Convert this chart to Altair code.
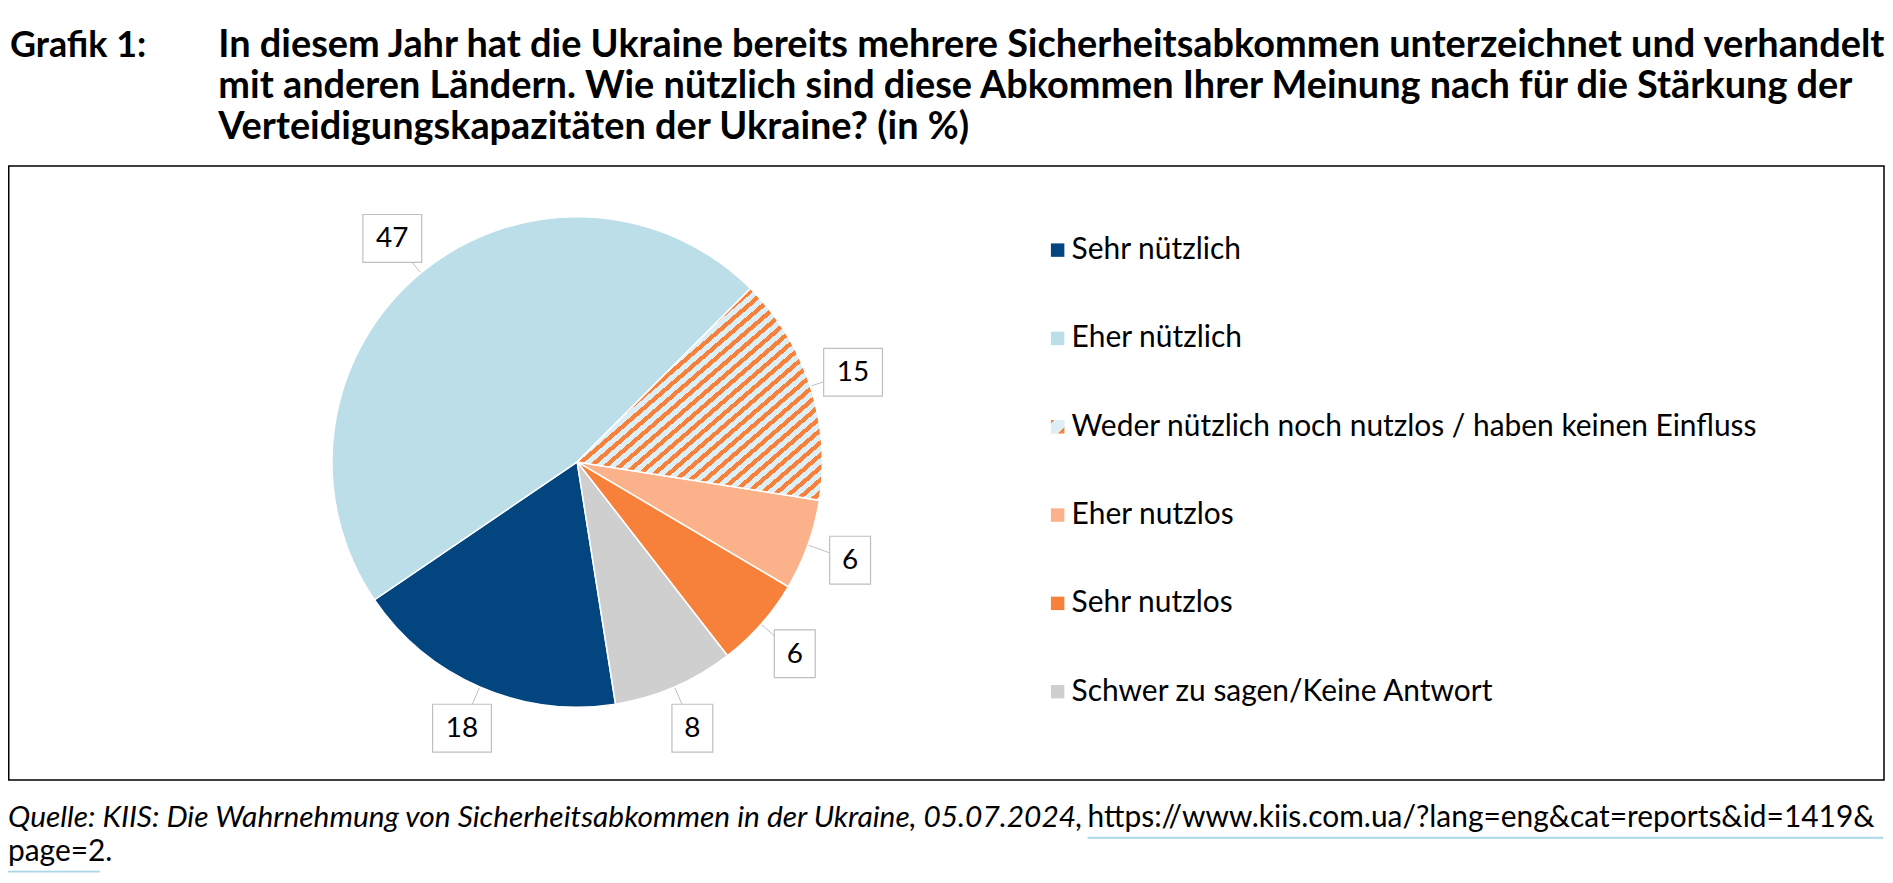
import math
import altair as alt
import pandas as pd

# ---------------- data ----------------
categories = [
    "Sehr nützlich",
    "Eher nützlich",
    "Weder nützlich noch nutzlos / haben keinen Einfluss",
    "Eher nutzlos",
    "Sehr nutzlos",
    "Schwer zu sagen/Keine Antwort",
]
values = [18, 47, 15, 6, 6, 8]
colors = ["#03467F", "#BBDEE9", "#DDEEF4", "#FBB28A", "#F7803B", "#D0CFCF"]

figure_label = "Grafik 1:"
title_lines = [
    "In diesem Jahr hat die Ukraine bereits mehrere Sicherheitsabkommen unterzeichnet und verhandelt",
    "mit anderen Ländern. Wie nützlich sind diese Abkommen Ihrer Meinung nach für die Stärkung der",
    "Verteidigungskapazitäten der Ukraine? (in %)",
]
source_italic = "Quelle: KIIS: Die Wahrnehmung von Sicherheitsabkommen in der Ukraine, 05.07.2024,"
source_url_1 = "https://www.kiis.com.ua/?lang=eng&cat=reports&id=1419&"
source_url_2 = "page=2"

df = pd.DataFrame({"category": categories, "value": values, "order": list(range(len(categories)))})
TOTAL = sum(values)

# ---------------- layout / style ----------------
W, H = 1883, 867
CX, CY, R = 571, 454, 246
RL = 291
START = 171 * math.pi / 180
FONT = "Lato"
ORANGE = "#F7803B"
HATCH_BG = "#DDEEF4"
hatch_name = categories[2]

def stripes(n, frac, c1, c2):
    stops = []
    for k in range(n):
        a, b, c = k / n, (k + frac) / n, (k + 1) / n
        stops += [{"offset": a, "color": c1}, {"offset": b, "color": c1},
                  {"offset": b, "color": c2}, {"offset": c, "color": c2}]
    return {"gradient": "linear", "x1": 0, "y1": 0, "x2": 1, "y2": 1, "stops": stops}

hatch_fill = stripes(34, 0.45, ORANGE, HATCH_BG)
legend_hatch = {"gradient": "linear", "x1": 0, "y1": 0, "x2": 1, "y2": 1, "stops": [
    {"offset": 0, "color": ORANGE}, {"offset": 0.14, "color": ORANGE},
    {"offset": 0.14, "color": HATCH_BG}, {"offset": 0.78, "color": HATCH_BG},
    {"offset": 0.78, "color": ORANGE}, {"offset": 1, "color": ORANGE}]}

color_scale = alt.Scale(domain=categories, range=colors)
theta_scale = alt.Scale(domain=[0, TOTAL], range=[START, START + 2 * math.pi])

base = (
    alt.Chart(df)
    .transform_joinaggregate(total="sum(value)")
    .transform_window(cum="sum(value)", sort=[alt.SortField("order")], frame=[None, 0])
    .transform_calculate(
        v0="datum.cum - datum.value",
        ang=f"{START} + 2*PI*(datum.cum - datum.value/2)/datum.total",
    )
    .transform_calculate(
        lx=f"{CX} + {RL}*sin(datum.ang)",
        ly=f"{CY} - {RL}*cos(datum.ang)",
        px=f"{CX} + {R + 1}*sin(datum.ang)",
        py=f"{CY} - {R + 1}*cos(datum.ang)",
        hw="datum.value >= 10 ? 29.5 : 20.5",
    )
    .transform_calculate(
        bx0="datum.lx - datum.hw", bx1="datum.lx + datum.hw",
        by0="datum.ly - 24", by1="datum.ly + 24",
    )
)

arcs = base.mark_arc(outerRadius=R, stroke="white", strokeWidth=1.5).encode(
    theta=alt.Theta("v0:Q", scale=theta_scale, stack=None),
    theta2="cum:Q",
    fill=alt.Color("category:N", scale=color_scale, legend=None),
    x=alt.value(CX), y=alt.value(CY),
)
hatch = base.transform_filter(alt.datum.category == hatch_name).mark_arc(
    outerRadius=R, stroke="white", strokeWidth=1.5, fill=hatch_fill
).encode(
    theta=alt.Theta("v0:Q", scale=theta_scale, stack=None),
    theta2="cum:Q",
    x=alt.value(CX), y=alt.value(CY),
)

leaders = base.mark_rule(color="#BFBFBF", strokeWidth=1).encode(
    x=alt.X("lx:Q", scale=None), y=alt.Y("ly:Q", scale=None), x2="px:Q", y2="py:Q"
)
boxes = base.mark_rect(fill="white", stroke="#BFBFBF", strokeWidth=1.2).encode(
    x=alt.X("bx0:Q", scale=None), x2="bx1:Q", y=alt.Y("by0:Q", scale=None), y2="by1:Q"
)
labels = base.mark_text(font=FONT, fontSize=28, color="#000000", baseline="middle", align="center", dy=1).encode(
    x=alt.X("lx:Q", scale=None), y=alt.Y("ly:Q", scale=None), text="value:Q"
)

# legend
ly_scale = alt.Scale(domain=categories, range=[241.5, 684.5], padding=0)
leg_sq = alt.Chart(df).mark_square(size=182, opacity=1).encode(
    x=alt.value(1053), y=alt.Y("category:N", scale=ly_scale, axis=None),
    fill=alt.Color("category:N", scale=color_scale, legend=None),
)
leg_hatch = alt.Chart(df).transform_filter(alt.datum.category == hatch_name).mark_square(
    size=182, opacity=1, fill=legend_hatch
).encode(x=alt.value(1053), y=alt.Y("category:N", scale=ly_scale, axis=None))
leg_text = alt.Chart(df).mark_text(font=FONT, fontSize=30, align="left", baseline="middle", color="#000000").encode(
    x=alt.value(1067), y=alt.Y("category:N", scale=ly_scale, axis=None), text="category:N"
)

one = pd.DataFrame({"a": [0]})
frame = alt.Chart(one).mark_rect(filled=False, stroke="#000000", strokeWidth=1.5).encode(
    x=alt.value(0.75), x2=alt.value(W - 1), y=alt.value(157), y2=alt.value(773)
)
fig_lbl = alt.Chart(one).mark_text(font=FONT, fontSize=36, fontWeight="bold", align="left",
                                   baseline="alphabetic", color="#000000").encode(
    x=alt.value(2), y=alt.value(48), text=alt.value(figure_label))
title = alt.Chart(one).mark_text(font=FONT, fontSize=38, fontWeight="bold", align="left",
                                 baseline="alphabetic", lineHeight=41, color="#000000").encode(
    x=alt.value(211), y=alt.value(48), text=alt.value(title_lines))
src1 = alt.Chart(one).mark_text(font=FONT, fontSize=30, fontStyle="italic", align="left",
                                baseline="alphabetic", color="#000000").encode(
    x=alt.value(0), y=alt.value(820), text=alt.value(source_italic))
src2 = alt.Chart(one).mark_text(font=FONT, fontSize=30, align="left",
                                baseline="alphabetic", color="#000000").encode(
    x=alt.value(1083), y=alt.value(820), text=alt.value(source_url_1))
src3 = alt.Chart(one).mark_text(font=FONT, fontSize=30, align="left",
                                baseline="alphabetic", color="#000000").encode(
    x=alt.value(0), y=alt.value(854), text=alt.value(source_url_2 + "."))
ul1 = alt.Chart(one).mark_rule(color="#A9D7E8", strokeWidth=2).encode(
    x=alt.value(1083), x2=alt.value(W - 2), y=alt.value(831))
ul2 = alt.Chart(one).mark_rule(color="#A9D7E8", strokeWidth=2).encode(
    x=alt.value(0), x2=alt.value(92), y=alt.value(865))

chart = (
    alt.layer(frame, arcs, hatch, leaders, boxes, labels, leg_sq, leg_hatch, leg_text,
              fig_lbl, title, src1, src2, src3, ul1, ul2)
    .resolve_scale(x="independent", y="independent")
    .properties(width=W, height=H, padding=0, autosize="none", background="white")
    .configure_view(stroke=None)
)

chart.save("out.html", embed_options={"renderer": "svg", "actions": False})
